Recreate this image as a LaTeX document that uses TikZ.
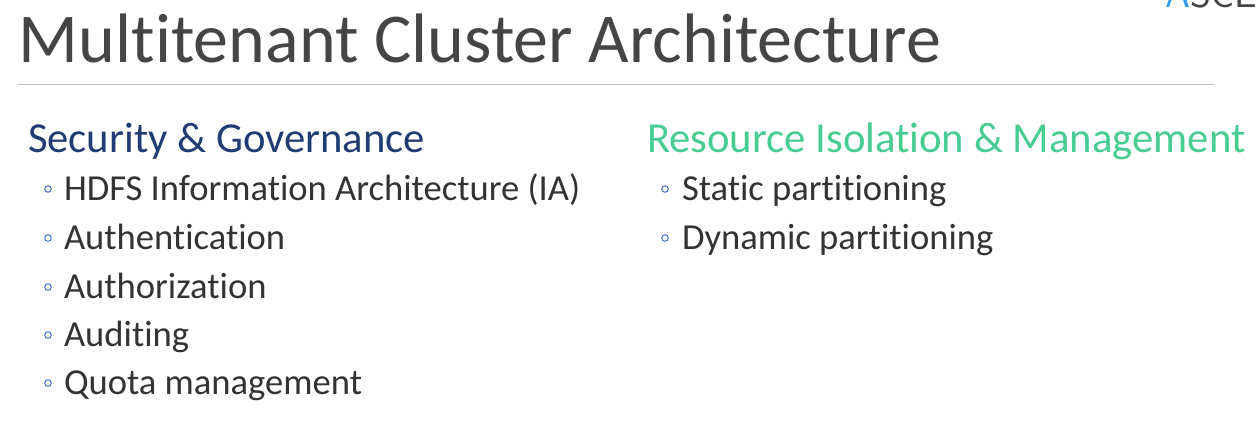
\documentclass[tikz,border=0pt]{standalone}
\usepackage{fontspec}
\setmainfont[Ligatures=NoCommon]{Carlito}
\definecolor{titlegray}{HTML}{454545}
\definecolor{headblue}{HTML}{1F3D73}
\definecolor{headgreen}{HTML}{47CC92}
\definecolor{bodygray}{HTML}{333333}
\definecolor{rulegray}{HTML}{BFBFBF}
\definecolor{bulletblue}{HTML}{4472C4}
\definecolor{logoblue}{HTML}{2E9BF0}
\begin{document}
\begin{tikzpicture}[x=1pt,y=-1pt,
  txt/.style={anchor=base west,inner sep=0pt,outer sep=0pt},
  titletxt/.style={txt,font=\fontsize{70}{72}\selectfont,text=titlegray},
  headtxt/.style={txt,font=\fontsize{42.7}{44}\selectfont},
  itemtxt/.style={txt,font=\fontsize{36.6}{38}\selectfont,text=bodygray},
  bul/.style={draw=bulletblue,line width=1pt,circle,inner sep=0pt,minimum size=6.5pt}]
\useasboundingbox[fill=white] (0,0) rectangle (1258,429);
\node[txt,font=\fontsize{40}{40}\selectfont\sffamily,text=titlegray] (logo) at (1165,7) {\textcolor{logoblue}{A}SCEN};
\node[titletxt] (title) at (19,62) {Multitenant Cluster Architecture};
\coordinate (r1) at (18,84);
\coordinate (r2) at (1214,84);
\draw[rulegray,line width=1pt] (r1) -- (r2);
\node[headtxt,text=headblue] (h1) at (28,152) {Security \& Governance};
\node[headtxt,text=headgreen] (h2) at (647,152) {Resource Isolation \& Management};
\foreach \n/\y/\t in {a/200/HDFS Information Architecture (IA),b/249/Authentication,c/298/Authorization,d/346/Auditing,e/394/Quota management}{
  \node[bul] (bl\n) at (48,\y-11) {};
  \node[itemtxt] (l\n) at (64,\y) {\t};
}
\foreach \n/\y/\t in {a/200/Static partitioning,b/249/Dynamic partitioning}{
  \node[bul] (br\n) at (665,\y-11) {};
  \node[itemtxt] (r\n) at (682,\y) {\t};
}
\end{tikzpicture}
\end{document}
